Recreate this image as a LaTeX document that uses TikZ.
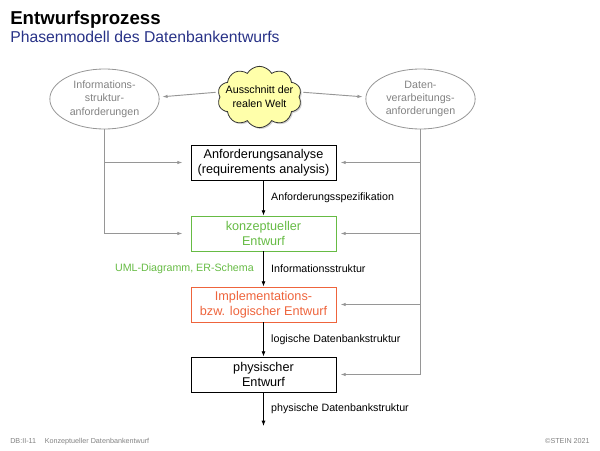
\documentclass[tikz,border=0pt]{standalone}
\usepackage{fontspec}
\setmainfont{Liberation Sans}
\usetikzlibrary{shapes.geometric,shapes.symbols,arrows.meta,shadows}
\definecolor{linegray}{RGB}{150,150,150}
\definecolor{txtgray}{RGB}{130,130,130}
\definecolor{cgreen}{RGB}{102,187,68}
\definecolor{corange}{RGB}{238,100,60}
\definecolor{cblue}{RGB}{40,50,135}
\definecolor{cloudyellow}{RGB}{255,255,170}
\tikzset{
  phasebox/.style={draw, line width=0.6pt, minimum width=108.75pt, minimum height=26.25pt, inner sep=1pt, align=center, font=\fontsize{9.5}{11}\selectfont},
  reqell/.style={ellipse, draw=linegray, line width=0.6pt, minimum width=82pt, minimum height=45pt, inner sep=0pt, align=center, text=txtgray, font=\fontsize{8}{10}\selectfont},
  flow/.style={-{Latex[length=4pt,width=3pt]}, line width=0.6pt},
  feed/.style={-{Latex[length=4pt,width=2.6pt]}, draw=linegray, line width=0.7pt},
  lbl/.style={font=\fontsize{8}{10}\selectfont, inner sep=0pt},
}
\begin{document}
\begin{tikzpicture}[x=0.75pt, y=-0.75pt]
\useasboundingbox (0,0) rectangle (600,450);
% title
\node[anchor=base west, inner sep=0pt, font=\fontsize{14}{16}\bfseries] (title) at (10,24) {Entwurfsprozess};
\node[anchor=base west, inner sep=0pt, font=\fontsize{11.8}{14}\selectfont, text=cblue] (sub) at (10,42) {Phasenmodell des Datenbankentwurfs};
% top nodes
\node[reqell] (L) at (104.5,99) {Informations-\\struktur-\\anforderungen};
\node[reqell] (R) at (420.5,99) {Daten-\\verarbeitungs-\\anforderungen};
\node[cloud, cloud puffs=10, cloud puff arc=120, aspect=1.35, draw=black!80, line width=0.6pt, fill=cloudyellow, minimum width=63pt, minimum height=46pt, inner sep=0pt, drop shadow={shadow xshift=1pt, shadow yshift=-1pt, opacity=0.35}] (C) at (259.5,97) {};
\node[align=center, inner sep=0pt, font=\fontsize{8}{10.5}\selectfont] (Ct) at (C.center) {Ausschnitt der\\realen Welt};
% boxes
\node[phasebox] (B1) at (263.5,162.5) {Anforderungsanalyse\\(requirements analysis)};
\node[phasebox, draw=cgreen, text=cgreen] (B2) at (263.5,233.5) {konzeptueller\\Entwurf};
\node[phasebox, draw=corange, text=corange] (B3) at (263.5,304.5) {Implementations-\\bzw. logischer Entwurf};
\node[phasebox] (B4) at (263.5,374.5) {physischer\\Entwurf};
\coordinate (E) at (263.5,426);
% cloud arrows
\draw[feed, shorten <=3pt, shorten >=2pt] (C.west |- 0,92) -- (L.east |- 0,97);
\draw[feed, shorten <=3pt, shorten >=2pt] (C.east |- 0,92) -- (R.west |- 0,97);
% main flow
\draw[flow] (B1) -- node[lbl, right=5.5pt] (l1) {Anforderungsspezifikation} (B2);
\draw[flow] (B2) -- node[lbl, right=5.5pt] (l2) {Informationsstruktur}
                    node[lbl, left=7pt, text=cgreen] (l2b) {UML-Diagramm, ER-Schema} (B3);
\draw[flow] (B3) -- node[lbl, right=5.5pt] (l3) {logische Datenbankstruktur} (B4);
\draw[flow] (B4) -- node[lbl, right=5.5pt] (l4) {physische Datenbankstruktur} (E);
% left feeds
\draw[feed, shorten >=6pt] (L.south) |- (B2.west);
\draw[feed, shorten >=6pt] (L.south |- B1.west) -- (B1.west);
% right feeds
\draw[feed, shorten >=3pt] (R.south) |- (B4.east);
\draw[feed, shorten >=3pt] (R.south |- B1.east) -- (B1.east);
\draw[feed, shorten >=3pt] (R.south |- B2.east) -- (B2.east);
\draw[feed, shorten >=3pt] (R.south |- B3.east) -- (B3.east);
% footer
\node[anchor=base west, inner sep=0pt, font=\fontsize{5.4}{6}\selectfont, text=txtgray] (f1) at (10,443) {DB:II-11\hspace{1.2em}Konzeptueller Datenbankentwurf};
\node[anchor=base east, inner sep=0pt, font=\fontsize{5.4}{6}\selectfont, text=txtgray] (f2) at (590,443) {\textcopyright STEIN 2021};
\end{tikzpicture}
\end{document}
